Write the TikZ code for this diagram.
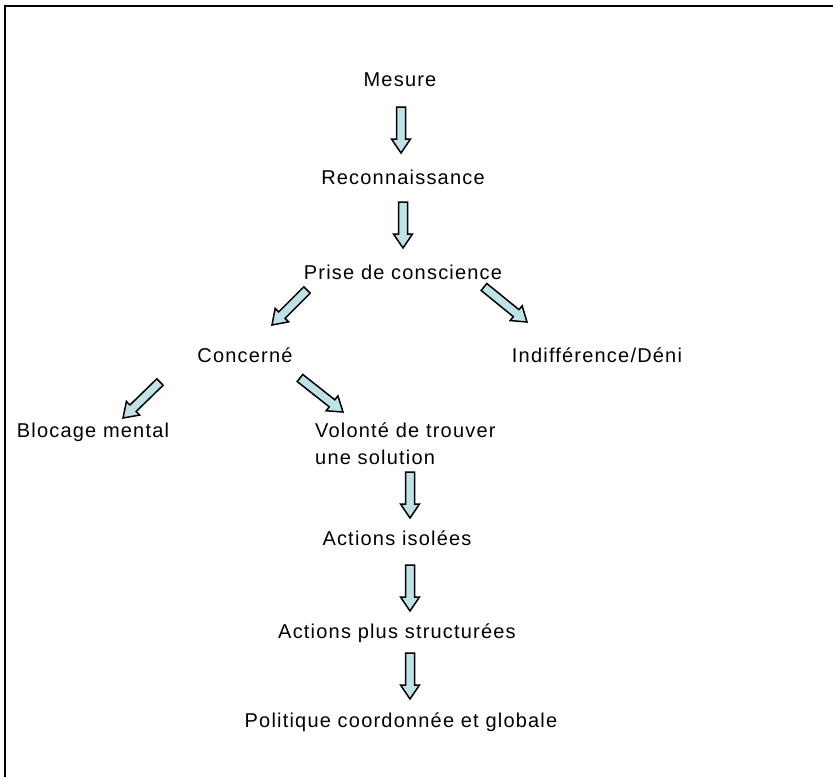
\documentclass[tikz,border=0pt]{standalone}
\usepackage{fontspec}
\setmainfont{Liberation Sans}[LetterSpace=6]
\usetikzlibrary{calc}
\definecolor{arrfill}{RGB}{190,226,230}
\newcommand{\barrow}[2]{%
  \coordinate (h) at ($(#2)!14pt!(#1)$);
  \draw[arrowbox]
    ($(#1)!4.5pt!90:(#2)$) -- ($(h)!4.5pt!-90:(#1)$) -- ($(h)!9.5pt!-90:(#1)$) -- (#2)
    -- ($(h)!9.5pt!90:(#1)$) -- ($(h)!4.5pt!90:(#1)$) -- ($(#1)!4.5pt!-90:(#2)$) -- cycle;
}
\begin{document}
\begin{tikzpicture}[x=1pt,y=-1pt,
  lbl/.style={font=\fontsize{20}{27}\selectfont, inner sep=0pt, anchor=center},
  arrowbox/.style={draw=black, fill=arrfill, line width=1.5pt, line join=miter},
  frame/.style={line width=2pt, draw=black}]
\useasboundingbox (0,0) rectangle (833,777);
\draw[frame] (5,777) coordinate (fl) -- (5,5.5) coordinate (fc) -- (833,5.5) coordinate (fr);
% labels
\node[lbl] (mes) at (400,80) {Mesure};
\node[lbl] (rec) at (403,177) {Reconnaissance};
\node[lbl] (pri) at (403,272) {Prise de conscience};
\node[lbl] (con) at (245,355) {Concerné};
\node[lbl] (ind) at (597,355) {Indifférence/Déni};
\node[lbl] (blo) at (93,432) {Blocage mental};
\node[lbl, align=left, anchor=west] (vol) at (315,444) {Volonté de trouver\\une solution};
\node[lbl] (act) at (397,538) {Actions isolées};
\node[lbl] (str) at (397,633) {Actions plus structurées};
\node[lbl] (pol) at (401,722) {Politique coordonnée et globale};
% arrow end points
\coordinate (a1t) at (401,107); \coordinate (a1h) at (401,153);
\coordinate (a2t) at (403,202); \coordinate (a2h) at (403,248);
\coordinate (a3t) at (307,290); \coordinate (a3h) at (272,325);
\coordinate (a4t) at (484,287); \coordinate (a4h) at (527,322);
\coordinate (a5t) at (160,382); \coordinate (a5h) at (123,418);
\coordinate (a6t) at (300,378); \coordinate (a6h) at (343,412);
\coordinate (a7t) at (410,472); \coordinate (a7h) at (410,518);
\coordinate (a8t) at (410,565); \coordinate (a8h) at (410,611);
\coordinate (a9t) at (410,653); \coordinate (a9h) at (410,699);
\barrow{a1t}{a1h}
\barrow{a2t}{a2h}
\barrow{a3t}{a3h}
\barrow{a4t}{a4h}
\barrow{a5t}{a5h}
\barrow{a6t}{a6h}
\barrow{a7t}{a7h}
\barrow{a8t}{a8h}
\barrow{a9t}{a9h}
\end{tikzpicture}
\end{document}
